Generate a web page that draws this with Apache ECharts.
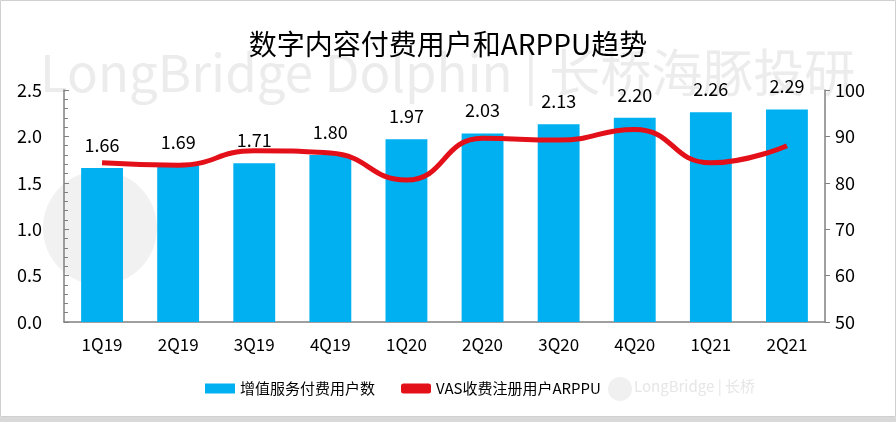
<!DOCTYPE html>
<html>
<head>
<meta charset="utf-8">
<script src="https://cdn.jsdelivr.net/npm/echarts@6/dist/echarts.min.js"></script>
<style>
  html, body { margin: 0; padding: 0; background: #fff; }
  #chart { width: 896px; height: 422px; }
</style>
</head>
<body>
<div id="chart"></div>
<script>
// 季度
var quarters = ['1Q19', '2Q19', '3Q19', '4Q19', '1Q20', '2Q20', '3Q20', '4Q20', '1Q21', '2Q21']
// 增值服务付费用户数（亿）
var payingUsers = [1.66, 1.69, 1.71, 1.80, 1.97, 2.03, 2.13, 2.20, 2.26, 2.29]
// VAS收费注册用户ARPPU
var arppu = [84.3, 83.8, 86.9, 86.4, 80.6, 89.6, 89.2, 91.5, 84.3, 88.0]

var font = '"Noto Sans CJK SC", "Noto Sans", sans-serif'
var chart = echarts.init(document.getElementById('chart'))

var option = {
  backgroundColor: '#fff',
  textStyle: { fontFamily: font },
  title: {
    text: '数字内容付费用户和ARPPU趋势',
    left: 'center',
    top: 25,
    textStyle: { fontSize: 28, fontWeight: 'normal', color: '#000', fontFamily: font }
  },
  graphic: [
    // 外框
    { type: 'rect', shape: { x: 0.5, y: 0.5, width: 895, height: 416 }, style: { fill: 'none', stroke: '#d0d0d0', lineWidth: 1 }, z: -10 },
    { type: 'rect', shape: { x: 0, y: 417, width: 896, height: 5 }, style: { fill: '#d9d9d9' }, z: -10 },
    // 水印
    { type: 'text', left: 40, top: 47, style: { text: 'LongBridge Dolphin | 长桥海豚投研', font: '51px ' + font, fill: '#ececec' }, z: -5 },
    { type: 'circle', shape: { cx: 100, cy: 228, r: 57 }, style: { fill: '#f1f1f1' }, z: -5 },
    { type: 'text', left: 634, top: 379, style: { text: 'LongBridge | 长桥', font: '15px ' + font, fill: '#e6e6e6' }, z: -5 },
    { type: 'circle', shape: { cx: 620, cy: 389, r: 12 }, style: { fill: '#f0f0f0' }, z: -5 }
  ],
  legend: {
    bottom: 21,
    left: 200,
    itemGap: 26,
    itemWidth: 30,
    itemHeight: 10,
    textStyle: { fontSize: 15, color: '#000' },
    data: [
      { name: '增值服务付费用户数', icon: 'rect' },
      { name: 'VAS收费注册用户ARPPU', icon: 'roundRect', itemStyle: { color: '#e3101a' } }
    ]
  },
  grid: { left: 64, right: 71, top: 90, bottom: 100 },
  xAxis: {
    type: 'category',
    data: quarters,
    axisLine: { lineStyle: { color: '#808080', width: 1.5 } },
    axisTick: { show: false },
    axisLabel: { fontSize: 17, color: '#000', margin: 14 }
  },
  yAxis: [
    {
      type: 'value',
      min: 0,
      max: 2.5,
      interval: 0.5,
      splitLine: { show: false },
      axisLine: { show: true, lineStyle: { color: '#808080', width: 1.5 } },
      axisTick: { show: true, inside: true, length: 5, lineStyle: { color: '#808080' } },
      minorTick: { show: true, splitNumber: 5, length: 4, lineStyle: { color: '#808080' } },
      axisLabel: { fontSize: 18, color: '#000', margin: 22, formatter: function (v) { return v.toFixed(1) } }
    },
    {
      type: 'value',
      min: 50,
      max: 100,
      interval: 10,
      splitLine: { show: false },
      axisLine: { show: true, lineStyle: { color: '#808080', width: 1.5 } },
      axisTick: { show: true, length: 5, lineStyle: { color: '#808080' } },
      axisLabel: { fontSize: 18, color: '#000', margin: 10 }
    }
  ],
  series: [
    {
      name: '增值服务付费用户数',
      type: 'bar',
      data: payingUsers,
      barWidth: '55%',
      itemStyle: { color: '#00b0f0' },
      label: {
        show: true,
        position: 'top',
        distance: 14,
        fontSize: 18,
        color: '#000',
        formatter: function (p) { return p.value.toFixed(2) }
      }
    },
    {
      name: 'VAS收费注册用户ARPPU',
      type: 'line',
      yAxisIndex: 1,
      data: arppu,
      smooth: 0.5,
      symbol: 'none',
      lineStyle: { color: '#e3101a', width: 5 },
      itemStyle: { color: '#e3101a' },
      z: 3
    }
  ]
}

chart.setOption(option)
</script>
</body>
</html>
